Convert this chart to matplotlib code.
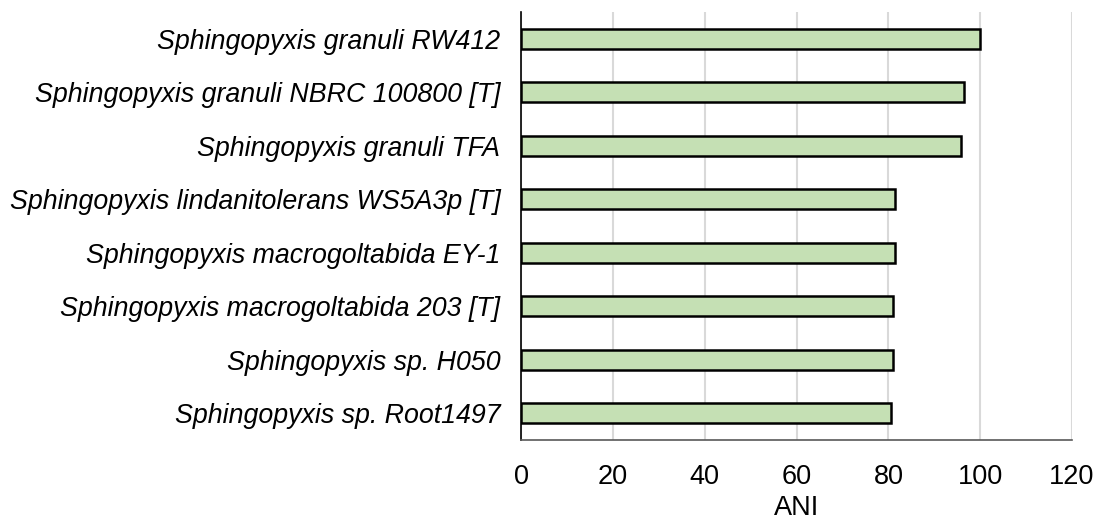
import matplotlib.pyplot as plt

plt.rcParams['font.family'] = ['Liberation Sans', 'DejaVu Sans']

# strains listed top to bottom, with their ANI values
strains = [
    'Sphingopyxis granuli RW412',
    'Sphingopyxis granuli NBRC 100800 [T]',
    'Sphingopyxis granuli TFA',
    'Sphingopyxis lindanitolerans WS5A3p [T]',
    'Sphingopyxis macrogoltabida EY-1',
    'Sphingopyxis macrogoltabida 203 [T]',
    'Sphingopyxis sp. H050',
    'Sphingopyxis sp. Root1497',
]
ani = [100.0, 96.5, 95.9, 81.5, 81.4, 81.0, 80.9, 80.5]
xticks = [0, 20, 40, 60, 80, 100, 120]

fig = plt.figure(figsize=(10.95, 5.25), dpi=100)
ax = fig.add_axes([0.476, 0.162, 0.503, 0.815])

ypos = range(len(strains))
ax.barh(ypos, ani, height=0.37, color='#c5e0b4', edgecolor='black', linewidth=1.8, zorder=3)

ax.set_yticks(list(ypos))
ax.set_yticklabels(strains, fontsize=19.3, style='italic')
ax.set_ylim(len(strains) - 0.5, -0.5)

ax.set_xlim(0, 120)
ax.set_xticks(xticks)
ax.tick_params(axis='x', labelsize=19.5, length=0, pad=17)
ax.tick_params(axis='y', length=0, pad=15)
ax.xaxis.grid(True, color='#d9d9d9', linewidth=1.5, zorder=0)
ax.set_xlabel('ANI', fontsize=19.5, labelpad=4)

for side in ['top', 'right']:
    ax.spines[side].set_visible(False)
ax.spines['left'].set_color('black')
ax.spines['left'].set_linewidth(1.2)
ax.spines['bottom'].set_color('#595959')
ax.spines['bottom'].set_linewidth(1.2)

plt.savefig('out.png', dpi=100)
plt.close()
